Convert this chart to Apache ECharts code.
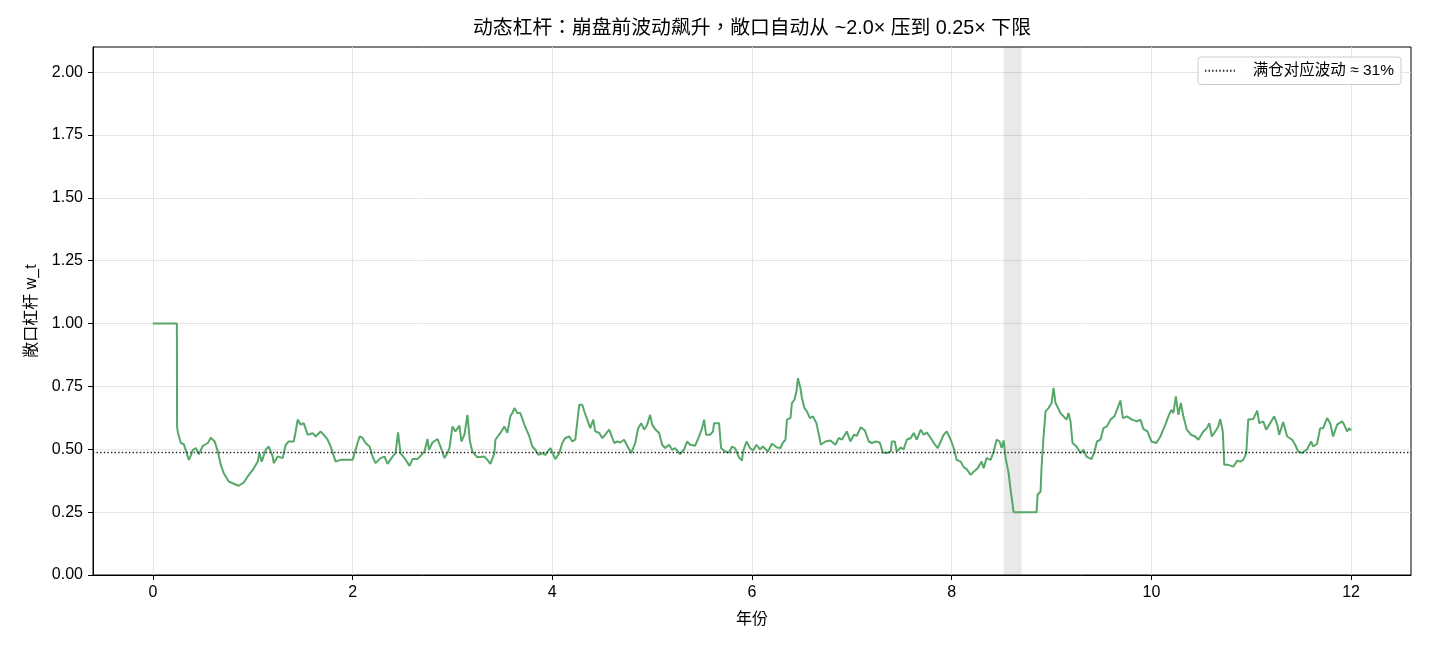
<!DOCTYPE html>
<html>
<head>
<meta charset="utf-8">
<script src="https://cdn.jsdelivr.net/npm/echarts@6.0.0/dist/echarts.min.js"></script>
<style>
  html, body { margin: 0; padding: 0; background: #ffffff; }
  #main { width: 1430px; height: 650px; }
</style>
</head>
<body>
<div id="main"></div>
<script>
// ---------- data (year, exposure leverage w_t) ----------
const lev0to2 = [
  [0, 1.0], [0.24, 1.0], [0.242, 0.59], [0.25, 0.566], [0.28, 0.525], [0.31, 0.52], [0.36, 0.458], [0.38, 0.475], [0.40, 0.498], [0.43, 0.505],
  [0.46, 0.48], [0.50, 0.514], [0.55, 0.525], [0.58, 0.546], [0.62, 0.53], [0.65, 0.491], [0.68, 0.438], [0.71, 0.405], [0.76, 0.372], [0.81, 0.363],
  [0.86, 0.355], [0.91, 0.368], [0.95, 0.392], [1.00, 0.418], [1.05, 0.451], [1.066, 0.485], [1.09, 0.451], [1.13, 0.498], [1.16, 0.511], [1.20, 0.471],
  [1.21, 0.445], [1.25, 0.471], [1.30, 0.465], [1.33, 0.518], [1.36, 0.531], [1.41, 0.531], [1.43, 0.571], [1.45, 0.618], [1.48, 0.598], [1.51, 0.604],
  [1.55, 0.558], [1.60, 0.564], [1.63, 0.551], [1.68, 0.571], [1.71, 0.558], [1.75, 0.538], [1.78, 0.511], [1.83, 0.451], [1.88, 0.458], [1.93, 0.458]
];
const lev2to4 = [
  [1.95, 0.465], [2.00, 0.458], [2.03, 0.498], [2.07, 0.551], [2.10, 0.545], [2.13, 0.525], [2.17, 0.511], [2.20, 0.471], [2.23, 0.445], [2.28, 0.465],
  [2.32, 0.471], [2.35, 0.442], [2.40, 0.471], [2.43, 0.485], [2.455, 0.567], [2.48, 0.484], [2.52, 0.465], [2.57, 0.434], [2.60, 0.461], [2.65, 0.461],
  [2.68, 0.474], [2.72, 0.491], [2.75, 0.541], [2.765, 0.498], [2.80, 0.527], [2.85, 0.541], [2.88, 0.511], [2.92, 0.465], [2.95, 0.485], [2.97, 0.505],
  [3.00, 0.591], [3.03, 0.571], [3.07, 0.594], [3.09, 0.531], [3.12, 0.558], [3.15, 0.637], [3.175, 0.531], [3.20, 0.491], [3.25, 0.468], [3.32, 0.471],
  [3.35, 0.458], [3.38, 0.442], [3.42, 0.485], [3.43, 0.538], [3.48, 0.565], [3.52, 0.591], [3.55, 0.565], [3.58, 0.631], [3.60, 0.644], [3.62, 0.664],
  [3.65, 0.644], [3.68, 0.644], [3.72, 0.598], [3.77, 0.551], [3.80, 0.511], [3.83, 0.498], [3.86, 0.478], [3.90, 0.485], [3.93, 0.478], [3.98, 0.505]
];
const lev4to6 = [
  [4.03, 0.461], [4.07, 0.485], [4.10, 0.525], [4.13, 0.545], [4.17, 0.551], [4.20, 0.531], [4.23, 0.538], [4.27, 0.677], [4.30, 0.677], [4.32, 0.651],
  [4.35, 0.618], [4.38, 0.584], [4.41, 0.618], [4.43, 0.571], [4.47, 0.565], [4.50, 0.545], [4.53, 0.558], [4.57, 0.578], [4.59, 0.584], [4.62, 0.525],
  [4.65, 0.531], [4.68, 0.527], [4.72, 0.538], [4.75, 0.514], [4.79, 0.485], [4.83, 0.525], [4.86, 0.584], [4.89, 0.604], [4.92, 0.578], [4.95, 0.598],
  [4.98, 0.637], [5.00, 0.598], [5.03, 0.58], [5.07, 0.565], [5.10, 0.518], [5.13, 0.505], [5.17, 0.518], [5.20, 0.498], [5.23, 0.505], [5.28, 0.481],
  [5.32, 0.50], [5.35, 0.531], [5.38, 0.518], [5.43, 0.514], [5.47, 0.551], [5.50, 0.584], [5.52, 0.618], [5.54, 0.558], [5.58, 0.558], [5.61, 0.571],
  [5.62, 0.604], [5.67, 0.604], [5.69, 0.505], [5.73, 0.491], [5.77, 0.487], [5.80, 0.511], [5.83, 0.505], [5.87, 0.468], [5.90, 0.455]
];
const lev6to8 = [
  [5.91, 0.491], [5.945, 0.531], [5.98, 0.505], [6.01, 0.495], [6.045, 0.518], [6.08, 0.50], [6.11, 0.511], [6.16, 0.491], [6.20, 0.522], [6.25, 0.507],
  [6.285, 0.505], [6.31, 0.527], [6.335, 0.538], [6.35, 0.618], [6.385, 0.624], [6.40, 0.684], [6.425, 0.697], [6.445, 0.73], [6.46, 0.783], [6.485, 0.743],
  [6.50, 0.704], [6.525, 0.664], [6.55, 0.651], [6.58, 0.624], [6.61, 0.631], [6.645, 0.604], [6.67, 0.558], [6.69, 0.518], [6.735, 0.531], [6.785, 0.535],
  [6.835, 0.518], [6.87, 0.545], [6.90, 0.538], [6.95, 0.571], [6.985, 0.531], [7.02, 0.558], [7.05, 0.554], [7.09, 0.588], [7.13, 0.575], [7.17, 0.531],
  [7.20, 0.525], [7.24, 0.531], [7.28, 0.527], [7.31, 0.487], [7.35, 0.485], [7.39, 0.491], [7.40, 0.531], [7.43, 0.531], [7.45, 0.491], [7.49, 0.507],
  [7.52, 0.50], [7.55, 0.538], [7.59, 0.545], [7.62, 0.565], [7.65, 0.538], [7.69, 0.578], [7.72, 0.558], [7.75, 0.567], [7.79, 0.545], [7.82, 0.525],
  [7.86, 0.505], [7.89, 0.531], [7.92, 0.558], [7.95, 0.571], [7.99, 0.538]
];
const lev8to10 = [
  [8.02, 0.505], [8.05, 0.458], [8.09, 0.451], [8.12, 0.429], [8.15, 0.421], [8.19, 0.398], [8.22, 0.411], [8.26, 0.425], [8.30, 0.451], [8.32, 0.425],
  [8.35, 0.465], [8.39, 0.458], [8.42, 0.491], [8.45, 0.538], [8.48, 0.531], [8.50, 0.505], [8.52, 0.535], [8.54, 0.465], [8.57, 0.405], [8.59, 0.339],
  [8.62, 0.25], [8.85, 0.25], [8.86, 0.319], [8.89, 0.332], [8.90, 0.43], [8.92, 0.551], [8.94, 0.651], [8.97, 0.664], [9.00, 0.684], [9.02, 0.744],
  [9.04, 0.684], [9.06, 0.69], [9.09, 0.644], [9.12, 0.631], [9.15, 0.618], [9.17, 0.644], [9.19, 0.611], [9.21, 0.525], [9.25, 0.511], [9.29, 0.485],
  [9.32, 0.498], [9.35, 0.471], [9.40, 0.461], [9.43, 0.491], [9.455, 0.531], [9.49, 0.538], [9.52, 0.584], [9.555, 0.591], [9.59, 0.618], [9.63, 0.631],
  [9.655, 0.657], [9.69, 0.694], [9.715, 0.624], [9.755, 0.631], [9.805, 0.618], [9.855, 0.611], [9.89, 0.618]
];
const lev10to12 = [
  [9.92, 0.581], [9.96, 0.571], [10.00, 0.531], [10.05, 0.525], [10.09, 0.551], [10.14, 0.598], [10.17, 0.631], [10.20, 0.657], [10.22, 0.644], [10.245, 0.71],
  [10.27, 0.637], [10.295, 0.684], [10.32, 0.631], [10.355, 0.578], [10.395, 0.558], [10.44, 0.551], [10.47, 0.538], [10.52, 0.571], [10.555, 0.584], [10.58, 0.604],
  [10.605, 0.551], [10.64, 0.571], [10.67, 0.591], [10.69, 0.62], [10.715, 0.571], [10.73, 0.438], [10.77, 0.438], [10.82, 0.431], [10.86, 0.455], [10.89, 0.451],
  [10.92, 0.458], [10.95, 0.485], [10.97, 0.618], [11.02, 0.62], [11.06, 0.654], [11.08, 0.604], [11.12, 0.611], [11.15, 0.578], [11.19, 0.604], [11.23, 0.631],
  [11.26, 0.598], [11.28, 0.558], [11.32, 0.608], [11.36, 0.551], [11.41, 0.538], [11.44, 0.518], [11.47, 0.491], [11.51, 0.485], [11.56, 0.50], [11.60, 0.531],
  [11.62, 0.511], [11.66, 0.522], [11.69, 0.584], [11.72, 0.584], [11.76, 0.624], [11.79, 0.604], [11.82, 0.551], [11.86, 0.598], [11.91, 0.611], [11.93, 0.598],
  [11.96, 0.571], [11.98, 0.584], [12.0, 0.575]
];
const fullPositionLevel = 0.49;          // dotted reference line
const crashWindow = [8.52, 8.70];        // shaded crash period (years)
const xTicks = [0, 2, 4, 6, 8, 10, 12];
const yTicks = [0, 0.25, 0.5, 0.75, 1.0, 1.25, 1.5, 1.75, 2.0];
const titleText = '动态杠杆：崩盘前波动飙升，敞口自动从 ~2.0× 压到 0.25× 下限';
const legendName = '满仓对应波动 ≈ 31%';

// ---------- chart ----------
const leverage = [].concat(lev0to2, lev2to4, lev4to6, lev6to8, lev8to10, lev10to12);
const FONT = '"Liberation Sans", "Noto Sans CJK TC", sans-serif';
const chart = echarts.init(document.getElementById('main'), null, { renderer: 'canvas' });

const isTick = (v, arr) => arr.some(t => Math.abs(t - v) < 1e-6);
const DOT = [1.4, 2.2];

chart.setOption({
  animation: false,
  backgroundColor: '#ffffff',
  textStyle: { fontFamily: FONT },
  title: {
    text: titleText,
    left: 752,
    top: 19,
    padding: 0,
    textAlign: 'center',
    textStyle: { fontSize: 19.8, fontWeight: 'normal', color: '#000', fontFamily: FONT }
  },
  legend: {
    data: [legendName],
    right: 29,
    top: 57,
    padding: [6, 7, 6, 6],
    backgroundColor: 'rgba(255,255,255,0.85)',
    borderColor: '#cccccc',
    borderWidth: 1,
    borderRadius: 3,
    itemWidth: 30,
    itemHeight: 10,
    itemStyle: { color: 'rgba(0,0,0,0)', borderWidth: 0, opacity: 0 },
    formatter: name => '   ' + name,
    textStyle: { fontSize: 15.5, color: '#000', fontFamily: FONT }
  },
  grid: {
    left: 93, right: 19, top: 47, bottom: 75,
    show: true, borderColor: '#000', borderWidth: 1, backgroundColor: 'transparent'
  },
  xAxis: {
    type: 'value',
    min: -0.6, max: 12.6,
    splitNumber: 7,
    minInterval: 2, maxInterval: 2,
    name: '年份',
    nameLocation: 'middle',
    nameGap: 37,
    nameTextStyle: { fontSize: 16, color: '#000', fontFamily: FONT },
    axisLine: { show: true, onZero: false, lineStyle: { color: '#000', width: 1 } },
    axisTick: { show: true, length: 5, customValues: xTicks, lineStyle: { color: '#000' } },
    axisLabel: {
      color: '#000', fontSize: 16, margin: 10, fontFamily: FONT,
      formatter: v => isTick(v, xTicks) ? String(Math.round(v)) : ''
    },
    splitLine: { show: true, lineStyle: { color: '#dedede', width: 0.8 } }
  },
  yAxis: {
    type: 'value',
    min: 0, max: 2.1,
    interval: 0.25,
    name: '敞口杠杆 w_t',
    nameLocation: 'middle',
    nameGap: 53,
    nameRotate: 90,
    nameTextStyle: { fontSize: 16, color: '#000', fontFamily: FONT },
    axisLine: { show: true, onZero: false, lineStyle: { color: '#000', width: 1 } },
    axisTick: { show: true, length: 5, customValues: yTicks, lineStyle: { color: '#000' } },
    axisLabel: {
      color: '#000', fontSize: 16, margin: 10, fontFamily: FONT,
      formatter: v => isTick(v, yTicks) ? v.toFixed(2) : ''
    },
    splitLine: { show: true, lineStyle: { color: '#dedede', width: 0.8 } }
  },
  series: [
    {
      name: '敞口杠杆',
      type: 'line',
      data: leverage,
      showSymbol: false,
      symbol: 'none',
      lineStyle: { color: '#55a868', width: 2 },
      itemStyle: { color: '#55a868' },
      z: 3,
      markArea: {
        silent: true,
        itemStyle: { color: 'rgba(0,0,0,0.085)' },
        data: [[{ xAxis: crashWindow[0] }, { xAxis: crashWindow[1] }]]
      },
      markLine: {
        silent: true,
        symbol: ['none', 'none'],
        label: { show: false },
        lineStyle: { color: '#222', width: 1.3, type: DOT },
        data: [{ yAxis: fullPositionLevel }]
      }
    },
    {
      name: legendName,
      type: 'line',
      data: [],
      symbol: 'none',
      lineStyle: { color: '#222', width: 1.3, type: DOT },
      itemStyle: { color: '#222' }
    }
  ]
});
</script>
</body>
</html>
